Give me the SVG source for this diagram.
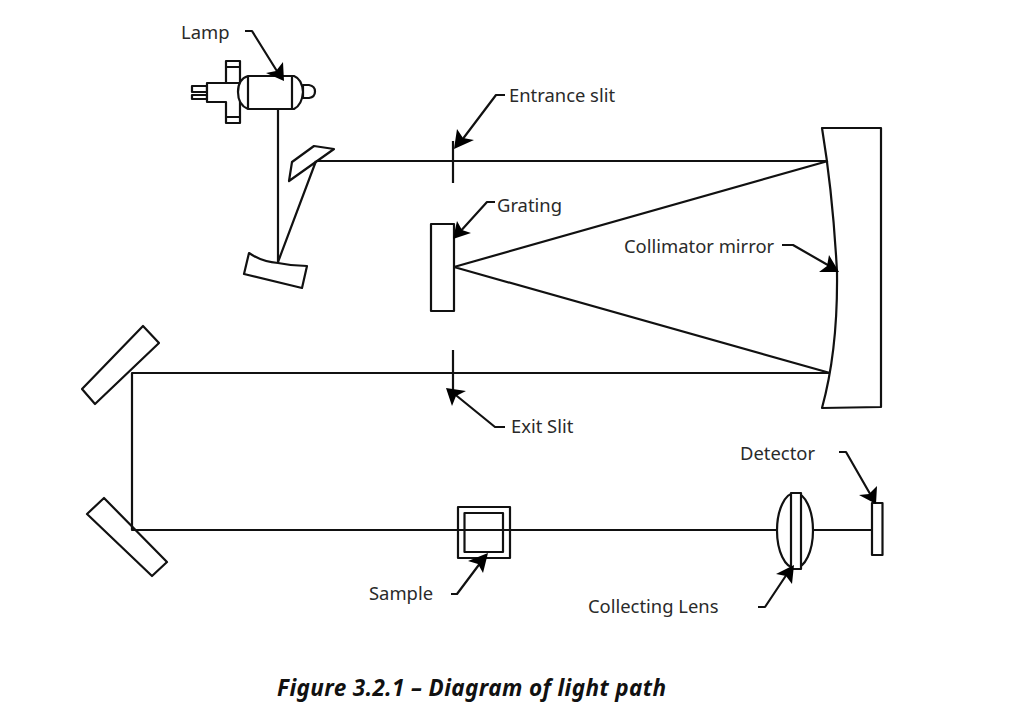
<svg xmlns="http://www.w3.org/2000/svg" width="1013" height="718" viewBox="0 0 1013 718">
<style>
.s{fill:none;stroke:#111;stroke-width:2.200;stroke-linejoin:round}
.w{fill:#fff;stroke:#111;stroke-width:2.200;stroke-linejoin:round}
.h{fill:#000;stroke:none}
.t{font-family:"Noto Sans","Open Sans",sans-serif;font-size:18.400px;fill:#2a2a2a}
.c{font-family:"Noto Sans","Open Sans",sans-serif;font-size:22.500px;font-weight:700;font-style:italic;fill:#111}
</style>
<rect width="1013" height="718" fill="#fff"/>
<g id="lamp">
<path class="w" d="M192 86H207V92H192ZM192 95H207V99H192Z"/>
<path class="w" d="M240 83H226V61H240V123H226V102H207V83H226"/>
<path class="s" d="M226 67H240M226 117H240"/>
<path class="w" d="M303 85H309Q315 86 315 91.500Q315 97 309 98H303Z"/>
<path class="w" d="M248 76H294Q302 79 303 92Q302 105 294 109H248Q238 105 238 92Q238 79 248 76Z"/>
<path class="s" d="M248 76V109M292 76V109"/>
</g>
<g id="fold-mirror"><path class="w" d="M292 162L314 146L334 149L289 181Z"/></g>
<g id="concave-mirror"><path class="w" d="M249 253Q262 262 278 263Q292 266 307 266L302 288L244 274Z"/></g>
<g id="entrance-slit"><path class="s" d="M453 141V183"/></g>
<g id="exit-slit"><path class="s" d="M453 350V396"/></g>
<g id="grating"><rect class="w" x="431" y="224" width="23" height="87"/></g>
<g id="collimator-mirror"><path class="w" d="M822 128H881V407L822 408Q838 350 837 272Q833 195 822 128Z"/></g>
<g id="mirror-upper"><path class="w" d="M143 326L159 343L95 404L82 389Z"/></g>
<g id="mirror-lower"><path class="w" d="M104 498L167 562L152 576L87 514Z"/></g>
<g id="sample"><rect class="s" x="458" y="507" width="52" height="51"/><rect class="s" x="464.500" y="513" width="38.500" height="39"/></g>
<g id="lens"><ellipse class="w" cx="795" cy="530.500" rx="18" ry="37.500"/><rect class="w" x="791" y="493" width="10" height="76"/></g>
<g id="detector"><rect class="w" x="872" y="503" width="10.500" height="52"/></g>
<g id="connectors">
<path class="s" d="M505 95H496L459 144M495 202H487L458 234M505 427H495L452 392M782 245H793L833 268M245 31H252L280 76M839 452H846L873 499M451 594H457L484 558M758 607H765L789 571"/>
<path class="s" d="M278 109V263M278 262L316 161M316 161H827M454 267L828 161M454 267L830 373M830 373H132V530H778M814 530H872"/>
<path class="h" d="M454 149L457 129L463 138L474 140Z"/>
<path class="h" d="M453 239L457 221L462 230L471 233Z"/>
<path class="h" d="M446 388L466 391L456 396L452 406Z"/>
<path class="h" d="M839 272L819 272L827 266L829 255Z"/>
<path class="h" d="M284 81L266 73L276 71L283 62Z"/>
<path class="h" d="M876 504L859 495L869 494L877 486Z"/>
<path class="h" d="M488 553L468 561L478 564L483 573Z"/>
<path class="h" d="M794 565L776 574L786 576L792 584Z"/>
</g>
<g id="labels">
<text class="t" x="181" y="39">Lamp</text>
<text class="t" x="509" y="102">Entrance slit</text>
<text class="t" x="497" y="212">Grating</text>
<text class="t" x="624" y="253">Collimator mirror</text>
<text class="t" x="511" y="433">Exit Slit</text>
<text class="t" x="740" y="460">Detector</text>
<text class="t" x="369" y="600">Sample</text>
<text class="t" x="588" y="613">Collecting Lens</text>
<text class="c" x="277" y="696" textLength="389">Figure 3.2.1 – Diagram of light path</text>
</g>
</svg>
